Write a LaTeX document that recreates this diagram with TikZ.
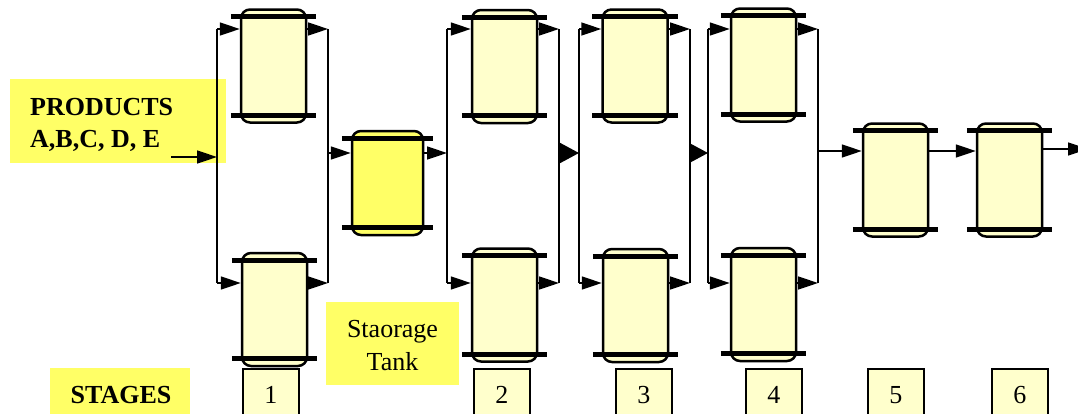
\documentclass[tikz,border=0pt]{standalone}
\usepackage{fontspec}
\setmainfont{Liberation Serif}
\usetikzlibrary{arrows.meta}
\definecolor{pale}{HTML}{FFFFCC}
\definecolor{yel}{HTML}{FFFF66}
\begin{document}
\begin{tikzpicture}[x=1pt,y=-1pt,
  vessel/.style={draw,line width=2.5pt,rounded corners=9pt,fill=pale,minimum width=65pt,minimum height=113pt,inner sep=0pt},
  tankv/.style={vessel,fill=yel,minimum width=71pt,minimum height=104pt},
  bar/.style={line width=5pt},
  pipe/.style={line width=1.6pt},
  arr/.style={pipe,-{Triangle[length=20pt,width=13pt]}},
  bigarr/.style={pipe,-{Triangle[length=19pt,width=20pt]}},
  lbl/.style={fill=yel,inner sep=0pt,anchor=north west},
  txt/.style={inner sep=0pt,anchor=base,font=\fontsize{26}{32}\selectfont},
  btxt/.style={inner sep=0pt,font=\bfseries\fontsize{26}{32}\selectfont},
  stagebox/.style={draw,fill=pale,line width=1.6pt,minimum width=56pt,minimum height=46pt,inner sep=0pt,anchor=north west}]
\clip (0,0) rectangle (1078,413);
% yellow labels
\node[lbl,minimum width=216pt,minimum height=84pt] (prodbox) at (10,79) {};
\node[btxt,anchor=base west] (prod1) at (30,115) {PRODUCTS};
\node[btxt,anchor=base west] (prod2) at (30,147) {A,B,C, D, E};
\node[lbl,minimum width=133pt,minimum height=83pt] (tankbox) at (326,302) {};
\node[txt] (tank1) at (392.5,337) {Staorage};
\node[txt] (tank2) at (392.5,370) {Tank};
\node[lbl,minimum width=140pt,minimum height=46pt] (stgbox) at (50,368) {};
\node[btxt,anchor=base] (stg) at (121,403) {STAGES};
% stage number boxes
\foreach \n/\x in {1/242,2/473,3/615,4/745,5/867,6/991}{
  \node[stagebox] (b\n) at (\x,368) {};
  \node[txt] (n\n) at (b\n.north |- 0,403) {\n};
}
% vessels
\node[vessel] (s1a) at (273.5,66) {};
\node[vessel] (s1b) at (274.5,309.5) {};
\node[tankv] (tk) at (387.5,183) {};
\node[vessel] (s2a) at (504.5,66.5) {};
\node[vessel] (s2b) at (504.5,305) {};
\node[vessel] (s3a) at (635,66) {};
\node[vessel] (s3b) at (635.5,305.5) {};
\node[vessel] (s4a) at (763.5,65) {};
\node[vessel] (s4b) at (763.5,304.5) {};
\node[vessel] (s5) at (895.5,180) {};
\node[vessel] (s6) at (1009.5,180) {};
\foreach \v in {s1a,s1b,tk,s2a,s2b,s3a,s3b,s4a,s4b,s5,s6}{
  \draw[bar] ([xshift=-9pt,yshift=-8.5pt]\v.north west) -- ([xshift=9pt,yshift=-8.5pt]\v.north east);
  \draw[bar] ([xshift=-9pt,yshift=8.5pt]\v.south west) -- ([xshift=9pt,yshift=8.5pt]\v.south east);
}
% header lines of each parallel stage
\foreach \k/\l/\r in {1/217/328,2/447/559,3/579/690,4/708/818}{
  \coordinate (L\k t) at (\l,29);
  \coordinate (L\k b) at (\l,283);
  \coordinate (L\k m) at (\l,153);
  \coordinate (R\k t) at (\r,29);
  \coordinate (R\k b) at (\r,283);
  \coordinate (R\k m) at (\r,153);
  \draw[pipe] (L\k t) -- (L\k b);
  \draw[pipe] (R\k t) -- (R\k b);
  \draw[arr] (L\k t) -- (s\k a.west |- L\k t);
  \draw[arr] (L\k b) -- (s\k b.west |- L\k b);
  \draw[arr] (s\k a.east |- R\k t) -- (R\k t);
  \draw[arr] (s\k b.east |- R\k b) -- (R\k b);
}
% feed
\coordinate (feed) at (171,157);
\coordinate (L1i) at (217,157);
\draw[arr] (feed) -- (L1i);
% between stages
\draw[arr] (R1m) -- (tk.west |- R1m);
\draw[arr] (tk.east |- L2m) -- (L2m);
\draw[bigarr] (R2m) -- (L3m);
\draw[bigarr] (R3m) -- (L4m);
\coordinate (R4o) at (818,151);
\draw[arr] (R4o) -- (s5.west |- R4o);
\draw[arr] (s5.east |- R4o) -- (s6.west |- R4o);
\coordinate (out) at (1088,149);
\draw[arr] (s6.east |- out) -- (out);
\end{tikzpicture}
\end{document}
